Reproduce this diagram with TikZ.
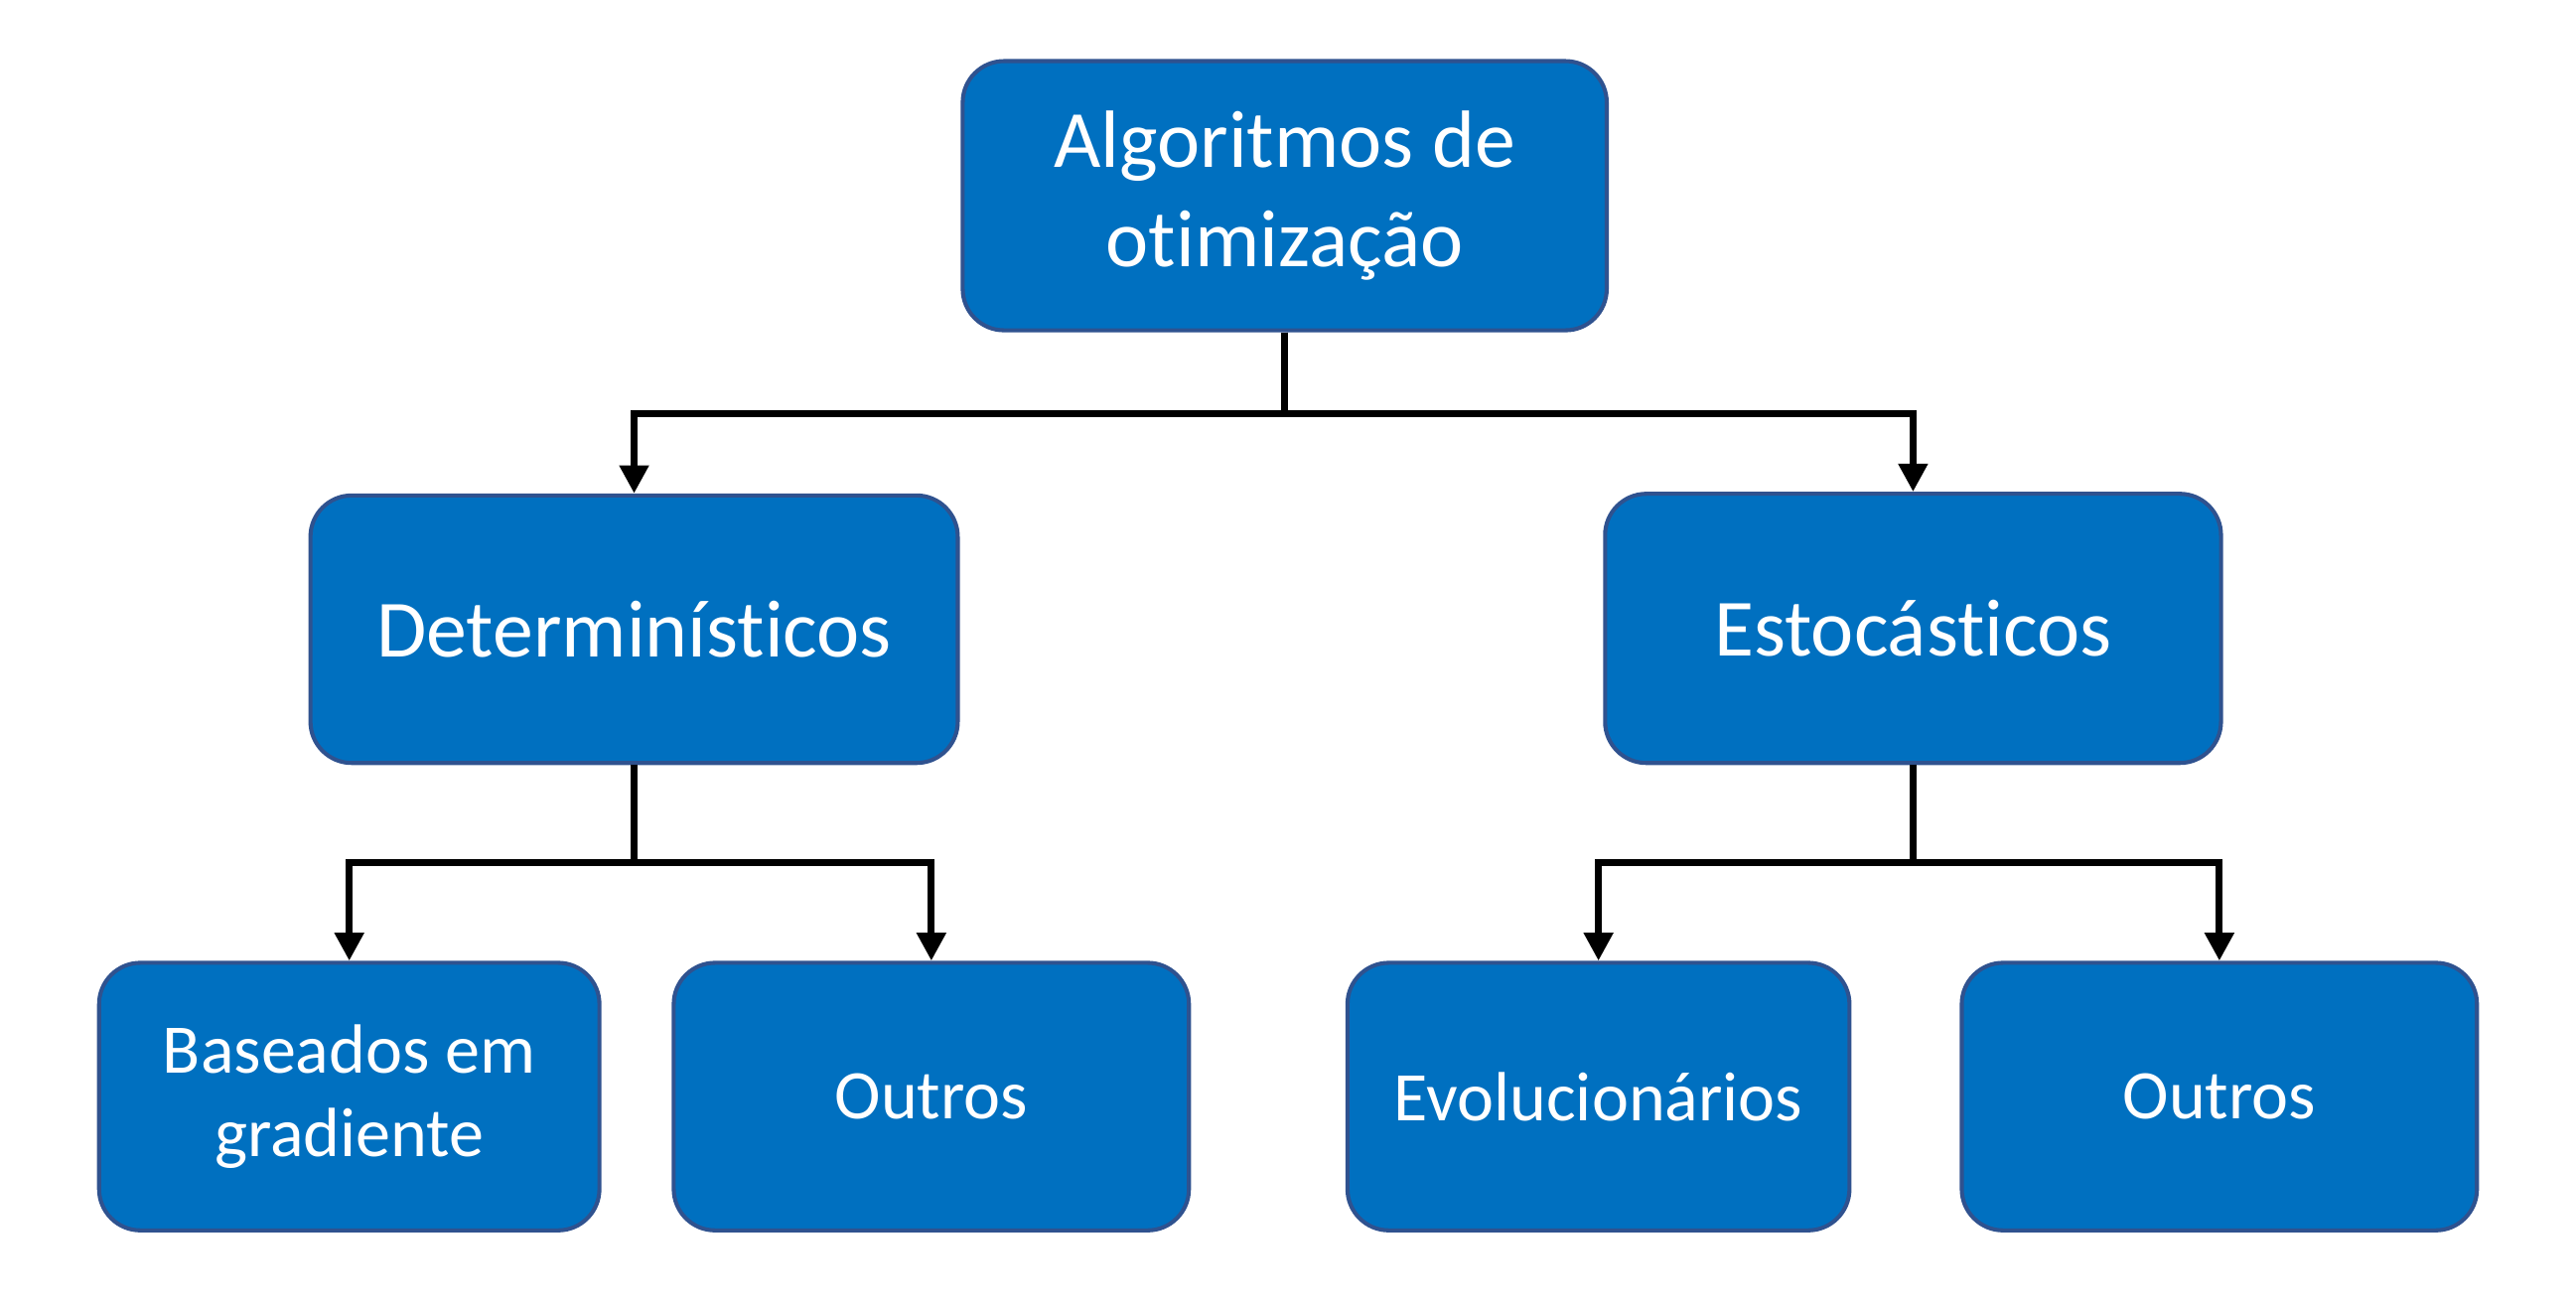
\documentclass[tikz,border=0pt]{standalone}
\usepackage{fontspec}
\setmainfont{Carlito}[Ligatures=NoCommon]
\usetikzlibrary{arrows.meta}
\definecolor{boxfill}{HTML}{0070C0}
\definecolor{boxline}{HTML}{2F528F}
\tikzset{
  box/.style={draw=boxline, line width=0.7pt, fill=boxfill, rounded corners=0.25cm,
    text=white, align=center, font=\fontsize{14}{17}\selectfont},
  leaf/.style={box, font=\fontsize{12}{14.4}\selectfont},
  conn/.style={draw, line width=1.2pt, -{Triangle[length=1.7mm,width=1.7mm]}}
}
\begin{document}
\begin{tikzpicture}
\useasboundingbox (0,0) rectangle (15.6,-7.9266);
\begin{scope}
\node[box, minimum width=3.90cm, minimum height=1.63cm] (alg) at (7.78,-1.185) {Algoritmos de\\otimização};
\node[box, minimum width=3.92cm, minimum height=1.62cm] (det) at (3.84,-3.81) {Determinísticos};
\node[box, minimum width=3.73cm, minimum height=1.63cm] (est) at (11.585,-3.805) {Estocásticos};
\path[conn] (alg.south) -- ++(0,-0.49) -| (det.north);
\path[conn] (alg.south) -- ++(0,-0.49) -| (est.north);
\end{scope}
\begin{scope}
\node[leaf, minimum width=3.03cm, minimum height=1.62cm] (grad) at (2.115,-6.64) {Baseados em\\gradiente};
\node[leaf, minimum width=3.12cm, minimum height=1.62cm] (outdet) at (5.64,-6.64) {Outros};
\node[leaf, minimum width=3.04cm, minimum height=1.62cm] (evo) at (9.68,-6.64) {Evolucionários};
\node[leaf, minimum width=3.12cm, minimum height=1.62cm] (outest) at (13.44,-6.64) {Outros};
\path[conn] (det.south) -- ++(0,-0.59) -| (grad.north);
\path[conn] (det.south) -- ++(0,-0.59) -| (outdet.north);
\path[conn] (est.south) -- ++(0,-0.59) -| (evo.north);
\path[conn] (est.south) -- ++(0,-0.59) -| (outest.north);
\end{scope}
\end{tikzpicture}
\end{document}
